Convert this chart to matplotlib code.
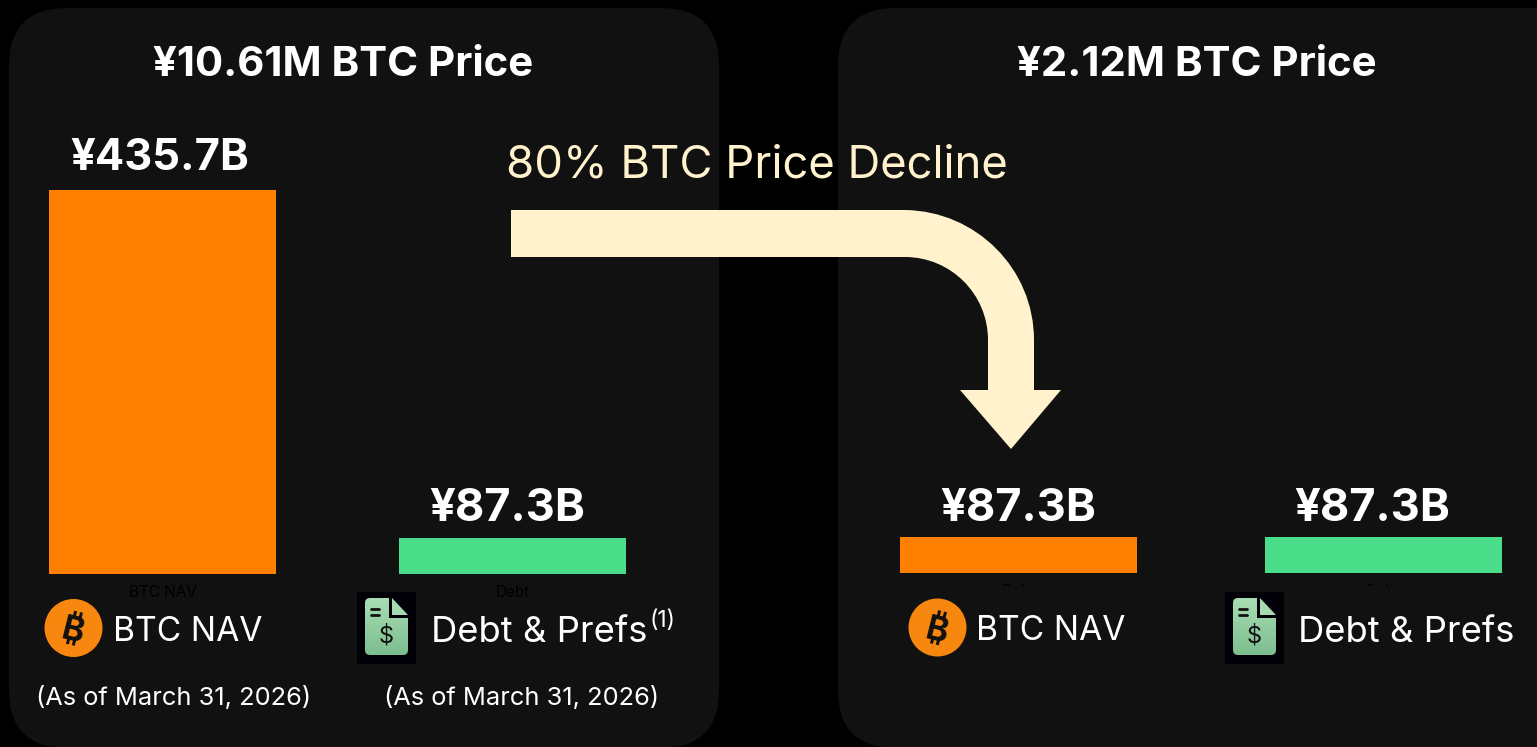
import matplotlib
matplotlib.use("Agg")
import matplotlib.pyplot as plt
from matplotlib.patches import FancyBboxPatch, PathPatch, Rectangle, Ellipse
from matplotlib.path import Path
import numpy as np

W, H = 1537, 747
PANEL_TITLES = ["¥10.61M BTC Price", "¥2.12M BTC Price"]
LEFT_CATS = ["BTC NAV", "Debt"]
LEFT_VALS = [435.7, 87.3]
RIGHT_CATS = ["Debt", "Debt"]
RIGHT_VALS = [87.3, 87.3]
LEFT_LABELS = ["¥435.7B", "¥87.3B"]
RIGHT_LABELS = ["¥87.3B", "¥87.3B"]
BAR_COLORS = ["#FF8000", "#4ADE8B"]
Y_MIN, Y_MAX = 51.25, 435.7

FONT = "Inter"
CREAM = "#FFF2CC"
PANEL = "#111111"
plt.rcParams["font.family"] = [FONT, "DejaVu Sans"]

fig = plt.figure(figsize=(W / 100, H / 100), dpi=100, facecolor="black")


def px_axes(x0, y0, x1, y1, z):
    return fig.add_axes([x0 / W, 1 - y1 / H, (x1 - x0) / W, (y1 - y0) / H], zorder=z)


# background panels
bg = px_axes(0, 0, W, H, 0)
bg.set_xlim(0, W); bg.set_ylim(H, 0); bg.axis("off")
for x0, x1 in [(9, 719), (838, 1600)]:
    r = 58
    bg.add_patch(FancyBboxPatch((x0 + r, 8 + r), x1 - x0 - 2 * r, 740 - 2 * r,
                                boxstyle=f"round,pad={r},rounding_size={r}",
                                fc=PANEL, ec="none"))


def bar_panel(x0, x1, y0, y1, cats, vals, width):
    ax = px_axes(x0, y0, x1, y1, 1)
    ax.patch.set_alpha(0)
    ax.bar(range(len(vals)), vals, width=width, color=BAR_COLORS)
    ax.set_xlim(-width / 2, len(vals) - 1 + width / 2)
    ax.set_ylim(Y_MIN, Y_MAX)
    ax.set_xticks(range(len(cats)), cats, color="black", fontsize=11)
    ax.set_yticks([])
    ax.tick_params(length=0, pad=8)
    for s in ax.spines.values():
        s.set_visible(False)
    return ax


bar_panel(49, 626, 190, 574, LEFT_CATS, LEFT_VALS, 227 / 350)
bar_panel(900, 1501.5, 189, 573, RIGHT_CATS, RIGHT_VALS, 237 / 364.5)

# overlay
ov = px_axes(0, 0, W, H, 2)
ov.set_xlim(0, W); ov.set_ylim(H, 0); ov.axis("off"); ov.patch.set_alpha(0)
ov.add_patch(Rectangle((840, 586), 697, 100, fc=PANEL, ec="none"))


def T(x, y, s, size, weight="normal", color="white", ha="center"):
    ov.text(x, y, s, fontsize=size, fontweight=weight, color=color, ha=ha, va="center")


T(343, 65, PANEL_TITLES[0], 30.2, "bold")
T(1196.5, 65, PANEL_TITLES[1], 30.2, "bold")
T(159.5, 158, LEFT_LABELS[0], 31.3, "bold")
T(507.5, 509, LEFT_LABELS[1], 32.6, "bold")
T(1018, 509, RIGHT_LABELS[0], 32.6, "bold")
T(1372, 509, RIGHT_LABELS[1], 32.6, "bold")
T(757, 165, "80% BTC Price Decline", 32.7, "normal", CREAM)

T(113, 632, "BTC NAV", 24.2, "normal", ha="left")
T(431, 632, "Debt & Prefs", 26.2, "normal", ha="left")
T(650, 621, "(1)", 16.5, "normal", ha="left")
T(976, 631, "BTC NAV", 24.2, "normal", ha="left")
T(1298, 632, "Debt & Prefs", 26.2, "normal", ha="left")
T(173.5, 698, "(As of March 31, 2026)", 18.3)
T(521.5, 698, "(As of March 31, 2026)", 18.3)

# bent arrow
k = 0.5523
ox, oy, ro, ri = 905, 340, 129, 83
verts = [(511, 210), (ox, 210),
         (ox + k * ro, oy - ro), (ox + ro, oy - k * ro), (ox + ro, oy),
         (1034, 390), (1061, 390), (1011, 449), (960, 390), (988, 390), (988, oy),
         (ox + ri, oy - k * ri), (ox + k * ri, oy - ri), (ox, oy - ri),
         (511, 257), (511, 210)]
codes = [Path.MOVETO, Path.LINETO, Path.CURVE4, Path.CURVE4, Path.CURVE4,
         Path.LINETO, Path.LINETO, Path.LINETO, Path.LINETO, Path.LINETO, Path.LINETO,
         Path.CURVE4, Path.CURVE4, Path.CURVE4, Path.LINETO, Path.CLOSEPOLY]
ov.add_patch(PathPatch(Path(verts, codes), fc=CREAM, ec="none", zorder=1.5))


def btc_icon(cx, cy):
    ov.add_patch(Ellipse((cx, cy), 58, 58, fc="#F7870F", ec="none"))
    dark = "#111111"
    th = np.radians(14)
    # the text anchor sits above the glyph's visual centre: push it along the tilt
    ov.text(cx - 0.5, cy + 4, "B", fontsize=24, fontweight="bold", color=dark,
            ha="center", va="center", rotation=-14, zorder=4,
            rotation_mode="anchor")
    for dx in (-2, 4):
        for d0, d1 in ((-17, -11), (11, 17)):
            xs = [cx + dx * np.cos(th) - d * np.sin(th) for d in (d0, d1)]
            ys = [cy + dx * np.sin(th) + d * np.cos(th) for d in (d0, d1)]
            ov.plot(xs, ys, color=dark, lw=2.2, zorder=4, solid_capstyle="butt")


def doc_icon(x0, y0):
    # x0,y0 = top-left of the black square
    ov.add_patch(Rectangle((x0, y0), 59, 71.5, fc="#000006", ec="none"))
    l, t, r, b = x0 + 8, y0 + 6, x0 + 51, y0 + 63
    c = 5
    fold = 17
    fx = r - fold - 1
    body = Path([(l + c, t), (fx - 1, t), (fx - 1, t + fold + 3), (r, t + fold + 3),
                 (r, b - c), (r, b), (r - c, b), (l + c, b), (l, b), (l, b - c),
                 (l, t + c), (l, t), (l + c, t)],
                [Path.MOVETO, Path.LINETO, Path.LINETO, Path.LINETO, Path.LINETO,
                 Path.CURVE3, Path.CURVE3, Path.LINETO, Path.CURVE3, Path.CURVE3,
                 Path.LINETO, Path.CURVE3, Path.CURVE3])
    grad = np.linspace(0, 1, 64).reshape(-1, 1)
    cmap = matplotlib.colors.LinearSegmentedColormap.from_list("g", ["#A9DDB3", "#7CBE8F"])
    im = ov.imshow(grad, extent=(l, r, b, t), cmap=cmap, aspect="auto", zorder=3)
    clip = PathPatch(body, transform=ov.transData, fc="none", ec="none")
    ov.add_patch(clip)
    im.set_clip_path(clip)
    ov.add_patch(PathPatch(Path([(fx + 2, t), (r, t + fold), (fx + 2, t + fold), (fx + 2, t)]),
                           fc="#A6DBB1", ec="none", zorder=3))
    ov.plot([l + 6, l + 14], [t + 11, t + 11], color="#111", lw=2, zorder=4, solid_capstyle="round")
    ov.plot([l + 6, l + 14], [t + 17, t + 17], color="#111", lw=2, zorder=4, solid_capstyle="round")
    ov.text((l + r) / 2, t + 38, "$", fontsize=17, color="#111", ha="center", va="center", zorder=4)


btc_icon(73.5, 628)
btc_icon(937.5, 627.5)
doc_icon(357, 592)
doc_icon(1225, 592)
ov.set_xlim(0, W); ov.set_ylim(H, 0)

fig.savefig("out.png", dpi=100, facecolor="black")
